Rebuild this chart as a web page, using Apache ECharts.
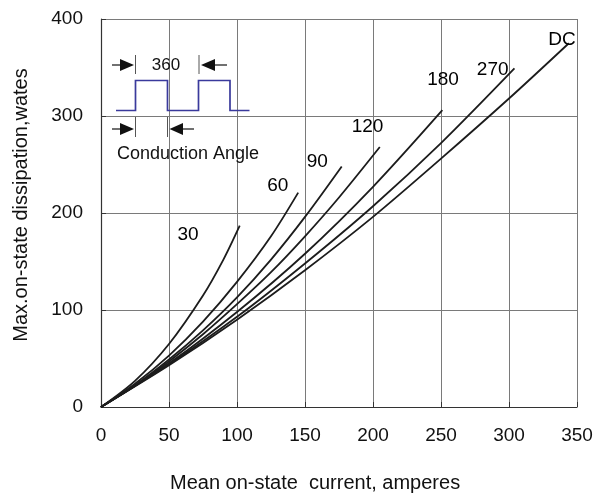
<!DOCTYPE html>
<html>
<head>
<meta charset="utf-8">
<script src="https://cdn.jsdelivr.net/npm/echarts@6/dist/echarts.min.js"></script>
<style>
html,body{margin:0;padding:0;background:#fff;}
#chart{width:599px;height:496px;}
</style>
</head>
<body>
<div id="chart"></div>
<script>
// Curves: mean on-state current (A) vs max dissipation (W), per conduction angle
const iDC   = [0, 50, 100, 150, 200, 250, 300, 344];
const pDC   = [0, 43, 90, 141, 196, 256, 318, 375];
const i270  = [0, 50, 100, 150, 200, 250, 304];
const p270  = [0, 44, 93, 148, 207, 272, 349];
const i180  = [0, 50, 100, 150, 200, 251];
const p180  = [0, 45, 98, 158, 227, 306];
const i120  = [0, 25, 50, 75, 100, 125, 150, 175, 205];
const p120  = [0, 22, 47, 75, 106, 139, 176, 216, 268];
const i90   = [0, 25, 50, 75, 100, 125, 150, 177];
const p90   = [0, 22.5, 49, 79, 113, 152, 196, 248];
const i60   = [0, 25, 50, 75, 100, 125, 145];
const p60   = [0, 24, 53, 88, 129, 176, 221];
const i30   = [0, 25, 50, 75, 90, 102];
const p30   = [0, 27, 65, 115, 152, 187];

// Curve labels (text and where they sit, in data units)
const labelNames = ['30', '60', '90', '120', '180', '270', 'DC'];
const labelX = [64, 130, 159, 196, 251.5, 288, 339];
const labelY = [178, 228, 253, 289, 337, 348, 379];

// Axis ticks
const xTicks = [0, 50, 100, 150, 200, 250, 300, 350];
const yTicks = [0, 100, 200, 300, 400];

const FONT = 'Arial, "Liberation Sans", sans-serif';
function pairs(xs, ys) { return xs.map((x, k) => [x, ys[k]]); }
function curve(name, xs, ys) {
  return {
    name: name, type: 'line', data: pairs(xs, ys), smooth: 0.3,
    symbol: 'none', lineStyle: { color: '#1c1c1c', width: 1.8 }, z: 3
  };
}

const chart = echarts.init(document.getElementById('chart'), null, { renderer: 'canvas' });

const navy = '#3a3a9c';
const ink = '#111';
const gray = '#555';

const option = {
  backgroundColor: '#fff',
  animation: false,
  grid: { left: 101, right: 22, top: 19, bottom: 89, containLabel: false },
  xAxis: {
    type: 'value', min: xTicks[0], max: xTicks[xTicks.length - 1], interval: 50,
    axisLine: { show: true, lineStyle: { color: '#333', width: 1.2 } },
    axisTick: { show: true, inside: true, length: 5, lineStyle: { color: '#333' } },
    splitLine: { show: true, lineStyle: { color: '#7a7a7a', width: 1 } },
    axisLabel: { fontSize: 19, color: '#111', fontFamily: FONT, margin: 19 }
  },
  yAxis: {
    type: 'value', min: yTicks[0], max: yTicks[yTicks.length - 1], interval: 100,
    axisLine: { show: true, lineStyle: { color: '#333', width: 1.2 } },
    axisTick: { show: true, inside: true, length: 5, lineStyle: { color: '#333' } },
    splitLine: { show: true, lineStyle: { color: '#7a7a7a', width: 1 } },
    axisLabel: { fontSize: 19, color: '#111', fontFamily: FONT, margin: 18 }
  },
  series: [
    curve('DC', iDC, pDC),
    curve('270', i270, p270),
    curve('180', i180, p180),
    curve('120', i120, p120),
    curve('90', i90, p90),
    curve('60', i60, p60),
    curve('30', i30, p30),
    {
      name: 'labels', type: 'scatter', symbolSize: 0, z: 4,
      data: labelNames.map((n, k) => ({ name: n, value: [labelX[k], labelY[k]] })),
      itemStyle: { color: '#000', opacity: 1 },
      label: {
        show: true, position: 'inside', formatter: p => p.name,
        fontSize: 19, color: '#000', fontFamily: FONT, opacity: 1
      },
      silent: true
    }
  ],
  graphic: [
    // axis titles
    {
      type: 'text', left: 170, top: 473,
      style: { text: 'Mean on-state  current, amperes', font: '20px ' + FONT, fill: '#111' }
    },
    {
      type: 'text', x: 21, y: 205, rotation: Math.PI / 2,
      style: { text: 'Max.on-state dissipation,wates', font: '20px ' + FONT, fill: '#111',
               align: 'center', verticalAlign: 'middle' }
    },
    // inset: square wave
    {
      type: 'polyline', z: 5,
      shape: { points: [[116, 110.5], [135.5, 110.5], [135.5, 80.5], [167.5, 80.5], [167.5, 110.5],
                        [198.5, 110.5], [198.5, 80.5], [230, 80.5], [230, 110.5], [249.5, 110.5]] },
      style: { stroke: navy, lineWidth: 1.7, fill: null }
    },
    // inset: 360 period markers
    { type: 'line', z: 5, shape: { x1: 135.5, y1: 55, x2: 135.5, y2: 74 }, style: { stroke: gray, lineWidth: 1 } },
    { type: 'line', z: 5, shape: { x1: 199, y1: 55, x2: 199, y2: 74 }, style: { stroke: gray, lineWidth: 1 } },
    { type: 'line', z: 5, shape: { x1: 112, y1: 65, x2: 122, y2: 65 }, style: { stroke: ink, lineWidth: 1.2 } },
    { type: 'polygon', z: 5, shape: { points: [[120, 59], [134, 65], [120, 71]] }, style: { fill: ink } },
    { type: 'line', z: 5, shape: { x1: 214, y1: 65, x2: 227, y2: 65 }, style: { stroke: ink, lineWidth: 1.2 } },
    { type: 'polygon', z: 5, shape: { points: [[215, 59], [201, 65], [215, 71]] }, style: { fill: ink } },
    {
      type: 'text', z: 5, x: 166, y: 65,
      style: { text: '360', font: '17px ' + FONT, fill: '#111', align: 'center', verticalAlign: 'middle' }
    },
    // inset: conduction angle markers
    { type: 'line', z: 5, shape: { x1: 135.5, y1: 117, x2: 135.5, y2: 137 }, style: { stroke: gray, lineWidth: 1 } },
    { type: 'line', z: 5, shape: { x1: 167.5, y1: 117, x2: 167.5, y2: 137 }, style: { stroke: gray, lineWidth: 1 } },
    { type: 'line', z: 5, shape: { x1: 112, y1: 129, x2: 122, y2: 129 }, style: { stroke: ink, lineWidth: 1.2 } },
    { type: 'polygon', z: 5, shape: { points: [[120, 123], [134, 129], [120, 135]] }, style: { fill: ink } },
    { type: 'line', z: 5, shape: { x1: 182, y1: 129, x2: 194, y2: 129 }, style: { stroke: ink, lineWidth: 1.2 } },
    { type: 'polygon', z: 5, shape: { points: [[183, 123], [169.5, 129], [183, 135]] }, style: { fill: ink } },
    {
      type: 'text', z: 5, x: 117, y: 154,
      style: { text: 'Conduction Angle', font: '18px ' + FONT, fill: '#111', verticalAlign: 'middle' }
    }
  ]
};

chart.setOption(option);
</script>
</body>
</html>
